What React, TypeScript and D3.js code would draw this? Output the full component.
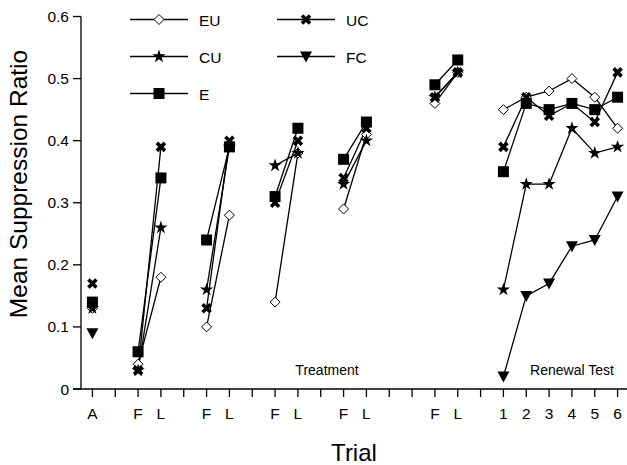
import React, { useEffect, useRef } from 'react';
import * as d3 from 'd3';

const width = 627;
const height = 465;

// x positions: 0 = A, 2/3, 5/6, 8/9, 11/12, 15/16 = F/L pairs, 18..23 = renewal trials 1..6
const tickLabels: Record<number, string> = {
  0: 'A',
  2: 'F', 3: 'L',
  5: 'F', 6: 'L',
  8: 'F', 9: 'L',
  11: 'F', 12: 'L',
  15: 'F', 16: 'L',
  18: '1', 19: '2', 20: '3', 21: '4', 22: '5', 23: '6',
};

const pairStarts = [2, 5, 8, 11, 15];
const renewalPositions = [18, 19, 20, 21, 22, 23];

// values: [A, F/L pairs..., renewal]
const euA = 0.13;
const euPairs = [[0.04, 0.18], [0.1, 0.28], [0.14, 0.38], [0.29, 0.41], [0.46, 0.51]];
const euRenewal = [0.45, 0.47, 0.48, 0.5, 0.47, 0.42];

const cuA = 0.13;
const cuPairs = [[0.03, 0.26], [0.16, 0.39], [0.36, 0.38], [0.33, 0.4], [0.47, 0.51]];
const cuRenewal = [0.16, 0.33, 0.33, 0.42, 0.38, 0.39];

const ucA = 0.17;
const ucPairs = [[0.03, 0.39], [0.13, 0.4], [0.3, 0.4], [0.34, 0.42], [0.47, 0.51]];
const ucRenewal = [0.39, 0.47, 0.44, 0.46, 0.43, 0.51];

const fcA = 0.09;
const fcRenewal = [0.02, 0.15, 0.17, 0.23, 0.24, 0.31];

const eA = 0.14;
const ePairs = [[0.06, 0.34], [0.24, 0.39], [0.31, 0.42], [0.37, 0.43], [0.49, 0.53]];
const eRenewal = [0.35, 0.46, 0.45, 0.46, 0.45, 0.47];

const yTicks = [0, 0.1, 0.2, 0.3, 0.4, 0.5, 0.6];

type Marker = 'diamond' | 'star' | 'square' | 'cross' | 'triangle';

type Series = {
  name: string;
  marker: Marker;
  a: number;
  pairs: number[][];
  renewal: number[];
};

const series: Series[] = [
  { name: 'EU', marker: 'diamond', a: euA, pairs: euPairs, renewal: euRenewal },
  { name: 'FC', marker: 'triangle', a: fcA, pairs: [], renewal: fcRenewal },
  { name: 'CU', marker: 'star', a: cuA, pairs: cuPairs, renewal: cuRenewal },
  { name: 'UC', marker: 'cross', a: ucA, pairs: ucPairs, renewal: ucRenewal },
  { name: 'E', marker: 'square', a: eA, pairs: ePairs, renewal: eRenewal },
];

const legendItems: { name: string; marker: Marker; col: number; row: number }[] = [
  { name: 'EU', marker: 'diamond', col: 0, row: 0 },
  { name: 'CU', marker: 'star', col: 0, row: 1 },
  { name: 'E', marker: 'square', col: 0, row: 2 },
  { name: 'UC', marker: 'cross', col: 1, row: 0 },
  { name: 'FC', marker: 'triangle', col: 1, row: 1 },
];

const font = 'Arial, "Liberation Sans", Helvetica, sans-serif';

const drawMarker = (
  g: d3.Selection<SVGGElement, unknown, null, undefined>,
  marker: Marker,
  cx: number,
  cy: number
) => {
  const t = `translate(${cx},${cy})`;
  if (marker === 'diamond') {
    g.append('path')
      .attr('d', 'M0,-5L5,0L0,5L-5,0Z')
      .attr('transform', t)
      .attr('fill', 'white')
      .attr('stroke', 'black')
      .attr('stroke-width', 1);
  } else if (marker === 'star') {
    g.append('path')
      .attr('d', d3.symbol().type(d3.symbolStar).size(55)()!)
      .attr('transform', t)
      .attr('fill', 'black');
  } else if (marker === 'square') {
    g.append('rect')
      .attr('x', cx - 5.5)
      .attr('y', cy - 5.5)
      .attr('width', 11)
      .attr('height', 11)
      .attr('fill', 'black');
  } else if (marker === 'cross') {
    g.append('path')
      .attr('d', 'M-4,-4L4,4M-4,4L4,-4')
      .attr('transform', t)
      .attr('stroke', 'black')
      .attr('stroke-width', 3.6)
      .attr('fill', 'none');
  } else {
    g.append('path')
      .attr('d', 'M-6,-5L6,-5L0,6Z')
      .attr('transform', t)
      .attr('fill', 'black');
  }
};

const Chart = () => {
  const ref = useRef<SVGSVGElement>(null);

  useEffect(() => {
    if (!ref.current) return;
    const svg = d3.select(ref.current);
    svg.selectAll('*').remove();

    const x = d3.scaleLinear().domain([-0.5, 23.5]).range([81, 629]);
    const y = d3.scaleLinear().domain([0, 0.6]).range([389, 16.5]);

    const root = svg.append('g').style('font-family', font);

    // y axis
    root
      .append('line')
      .attr('x1', 81)
      .attr('x2', 81)
      .attr('y1', y(0.6))
      .attr('y2', y(0))
      .attr('stroke', 'black')
      .attr('stroke-width', 1.3);
    yTicks.forEach((v) => {
      root
        .append('line')
        .attr('x1', 73)
        .attr('x2', 81)
        .attr('y1', y(v))
        .attr('y2', y(v))
        .attr('stroke', 'black')
        .attr('stroke-width', 1.3);
      root
        .append('text')
        .attr('x', 69)
        .attr('y', y(v) + 5.5)
        .attr('text-anchor', 'end')
        .style('font-size', '15.5px')
        .text(v === 0 ? '0' : d3.format('.1f')(v));
    });

    // x axis
    root
      .append('line')
      .attr('x1', 73)
      .attr('x2', width)
      .attr('y1', y(0))
      .attr('y2', y(0))
      .attr('stroke', 'black')
      .attr('stroke-width', 1.3);
    d3.range(0, 24).forEach((p) => {
      root
        .append('line')
        .attr('x1', x(p))
        .attr('x2', x(p))
        .attr('y1', y(0))
        .attr('y2', y(0) + 8)
        .attr('stroke', 'black')
        .attr('stroke-width', 1.3);
      if (tickLabels[p]) {
        root
          .append('text')
          .attr('x', x(p))
          .attr('y', 419)
          .attr('text-anchor', 'middle')
          .style('font-size', '15.5px')
          .text(tickLabels[p]);
      }
    });

    // axis titles
    root
      .append('text')
      .attr('transform', `translate(27, 184) rotate(-90)`)
      .attr('text-anchor', 'middle')
      .style('font-size', '24.5px')
      .text('Mean Suppression Ratio');
    root
      .append('text')
      .attr('x', 354)
      .attr('y', 461)
      .attr('text-anchor', 'middle')
      .style('font-size', '24px')
      .text('Trial');

    root
      .append('text')
      .attr('x', 327)
      .attr('y', 375)
      .attr('text-anchor', 'middle')
      .style('font-size', '14px')
      .text('Treatment');
    root
      .append('text')
      .attr('x', 572)
      .attr('y', 375)
      .attr('text-anchor', 'middle')
      .style('font-size', '14px')
      .text('Renewal Test');

    const line = d3
      .line<[number, number]>()
      .x((d) => x(d[0]))
      .y((d) => y(d[1]));

    // lines first
    const lines = root.append('g');
    series.forEach((s) => {
      s.pairs.forEach((pair, i) => {
        lines
          .append('path')
          .attr('d', line([[pairStarts[i], pair[0]], [pairStarts[i] + 1, pair[1]]]))
          .attr('fill', 'none')
          .attr('stroke', 'black')
          .attr('stroke-width', 1.3);
      });
      lines
        .append('path')
        .attr('d', line(renewalPositions.map((p, i) => [p, s.renewal[i]] as [number, number])))
        .attr('fill', 'none')
        .attr('stroke', 'black')
        .attr('stroke-width', 1.3);
    });

    // markers
    const marks = root.append('g');
    series.forEach((s) => {
      drawMarker(marks, s.marker, x(0), y(s.a));
      s.pairs.forEach((pair, i) => {
        drawMarker(marks, s.marker, x(pairStarts[i]), y(pair[0]));
        drawMarker(marks, s.marker, x(pairStarts[i] + 1), y(pair[1]));
      });
      s.renewal.forEach((v, i) => {
        drawMarker(marks, s.marker, x(renewalPositions[i]), y(v));
      });
    });

    // legend
    const legend = root.append('g');
    legendItems.forEach((item) => {
      const lx = item.col === 0 ? 130 : 277;
      const ly = 19.5 + item.row * 37;
      legend
        .append('line')
        .attr('x1', lx)
        .attr('x2', lx + 58)
        .attr('y1', ly)
        .attr('y2', ly)
        .attr('stroke', 'black')
        .attr('stroke-width', 1.3);
      drawMarker(legend, item.marker, lx + 29, ly);
      legend
        .append('text')
        .attr('x', lx + 69)
        .attr('y', ly + 6)
        .style('font-size', '15.5px')
        .text(item.name);
    });
  }, []);

  return <svg ref={ref} width={width} height={height} style={{ display: 'block' }} />;
};

export default function App() {
  return (
    <>
      <style>{'body{margin:0;background:white}'}</style>
      <Chart />
    </>
  );
}
